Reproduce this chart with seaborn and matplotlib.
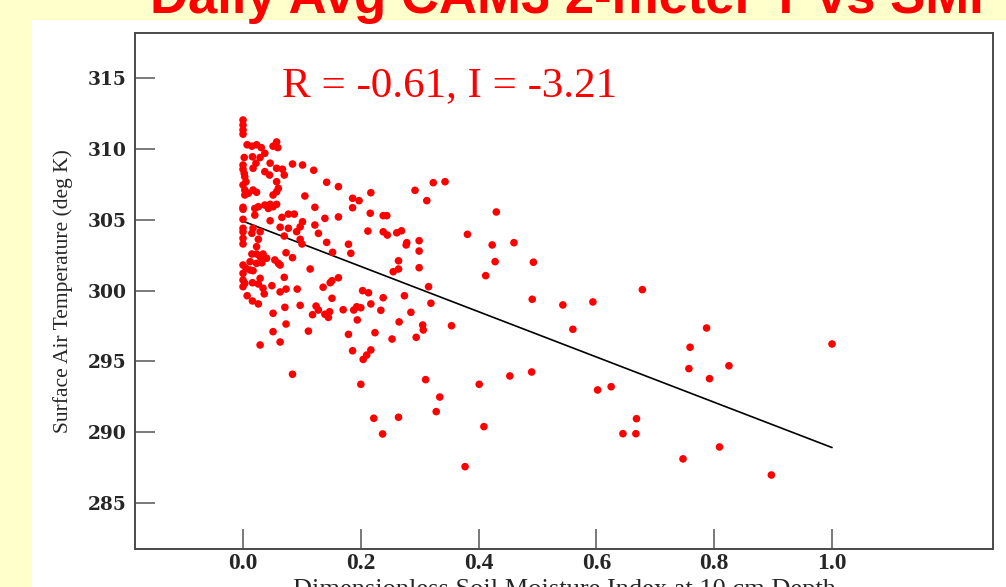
import matplotlib
matplotlib.use("Agg")
import matplotlib.pyplot as plt
import seaborn as sns
import pandas as pd
from matplotlib.patches import Rectangle

# ---- data ----
smi = [0.0, 0.0, 0.0, 0.0, 0.007, 0.015, 0.023, 0.031, 0.051, 0.057, 0.059, 0.037, 0.002, 0.016, 0.029,
       0.022, 0.046, 0.0, 0.0, 0.002, 0.017, 0.037, 0.045, 0.057, 0.067, 0.07, 0.084, 0.101, 0.12, 0.003,
       0.005, 0.057, 0.142, 0.162, 0.0, 0.003, 0.003, 0.009, 0.023, 0.017, 0.06, 0.057, 0.051, 0.105, 0.0,
       0.02, 0.026, 0.037, 0.046, 0.051, 0.057, 0.043, 0.122, 0.0, 0.046, 0.02, 0.066, 0.077, 0.087, 0.101,
       0.139, 0.162, 0.0, 0.0, 0.017, 0.029, 0.063, 0.077, 0.097, 0.122, 0.128, 0.323, 0.343, 0.292, 0.312,
       0.186, 0.197, 0.217, 0.186, 0.216, 0.238, 0.244, 0.43, 0.091, 0.212, 0.238, 0.245, 0.261, 0.269, 0.381,
       0.142, 0.179, 0.183, 0.152, 0.278, 0.277, 0.299, 0.299, 0.423, 0.46, 0.493, 0.428, 0.264, 0.264, 0.255,
       0.299, 0.412, 0.097, 0.1, 0.084, 0.073, 0.07, 0.063, 0.114, 0.07, 0.162, 0.151, 0.148, 0.136, 0.073,
       0.063, 0.092, 0.151, 0.203, 0.213, 0.238, 0.315, 0.274, 0.319, 0.217, 0.491, 0.543, 0.071, 0.097, 0.124,
       0.128, 0.118, 0.139, 0.145, 0.147, 0.17, 0.188, 0.193, 0.2, 0.194, 0.234, 0.285, 0.265, 0.305, 0.306,
       0.354, 0.56, 0.073, 0.111, 0.063, 0.179, 0.224, 0.253, 0.294, 0.186, 0.217, 0.21, 0.204, 0.084, 0.2,
       0.31, 0.401, 0.453, 0.49, 0.334, 0.015, 0.0, 0.0, 0.026, 0.023, 0.015, 0.023, 0.034, 0.029, 0.04,
       0.054, 0.06, 0.012, 0.023, 0.032, 0.0, 0.005, 0.012, 0.017, 0.0, 0.0, 0.003, 0.0, 0.016, 0.026,
       0.029, 0.034, 0.036, 0.049, 0.007, 0.016, 0.026, 0.051, 0.051, 0.029, 0.0, 0.328, 0.222, 0.264, 0.237,
       0.409, 0.377, 0.594, 0.678, 0.787, 0.759, 0.757, 0.792, 0.825, 1.0, 0.602, 0.625, 0.668, 0.645, 0.667,
       0.809, 0.747, 0.897]
temp = [312.05, 311.7, 311.35, 311.05, 310.3, 310.2, 310.3, 310.1, 310.2, 310.5, 310.1, 309.7, 309.4, 309.45, 309.4,
        309.0, 309.0, 308.87, 308.57, 308.28, 308.64, 308.4, 308.16, 308.64, 308.57, 308.16, 308.94, 308.87, 308.5, 308.04,
        307.69, 307.69, 307.65, 307.34, 307.46, 307.1, 306.75, 306.87, 306.94, 307.1, 307.22, 306.98, 306.75, 306.68, 305.88,
        305.8, 305.92, 306.04, 306.09, 305.92, 306.09, 305.8, 305.88, 305.03, 304.93, 305.33, 305.17, 305.4, 305.4, 304.86,
        305.1, 305.2, 304.4, 304.15, 304.4, 304.15, 304.47, 304.4, 304.5, 304.63, 304.04, 307.62, 307.69, 307.08, 306.35,
        306.52, 306.35, 306.91, 305.85, 305.46, 305.29, 305.29, 305.55, 304.16, 304.2, 304.15, 303.92, 304.08, 304.22, 303.97,
        303.4, 303.27, 302.63, 302.7, 303.38, 303.22, 303.52, 302.79, 303.22, 303.38, 302.0, 302.04, 302.1, 301.52, 301.33,
        301.61, 301.05, 303.62, 303.29, 302.32, 302.67, 303.85, 301.8, 301.52, 300.93, 300.9, 300.69, 300.55, 300.23, 300.1,
        299.9, 300.1, 299.45, 299.99, 299.84, 299.49, 300.27, 299.63, 299.1, 299.05, 299.38, 298.98, 298.81, 298.95, 298.9,
        298.62, 298.29, 298.32, 298.1, 298.5, 298.64, 298.62, 298.85, 298.78, 297.92, 298.6, 298.46, 297.78, 297.56, 297.21,
        297.51, 297.26, 297.63, 297.13, 296.36, 296.9, 297.02, 296.57, 296.69, 295.74, 295.8, 295.44, 295.13, 294.08, 293.37,
        293.7, 293.37, 293.96, 294.24, 292.47, 304.04, 303.69, 303.29, 303.62, 303.1, 302.58, 302.58, 302.58, 302.39, 302.28,
        302.16, 301.92, 302.04, 301.92, 301.96, 301.8, 301.57, 301.45, 301.4, 301.21, 300.74, 300.51, 300.27, 300.55, 300.46,
        300.86, 300.16, 299.76, 300.34, 299.63, 299.26, 299.05, 298.39, 297.09, 296.15, 305.74, 291.44, 290.97, 291.04, 289.86,
        290.38, 287.55, 299.19, 300.06, 297.35, 295.99, 294.48, 293.77, 294.68, 296.22, 292.97, 293.2, 290.94, 289.88, 289.88,
        288.94, 288.1, 286.96]

fit_x = [0.0, 1.0]
fit_y = [304.9, 288.9]

x_ticks = [0.0, 0.2, 0.4, 0.6, 0.8, 1.0]
x_ticklabels = ["0.0", "0.2", "0.4", "0.6", "0.8", "1.0"]
y_ticks = [285, 290, 295, 300, 305, 310, 315]

title = "Daily Avg CAM3 2-meter T vs SMI"
stat_text = "R = -0.61, I = -3.21"
xlabel = "Dimensionless Soil Moisture Index at 10 cm Depth"
ylabel = "Surface Air Temperature (deg K)"

df = pd.DataFrame({"smi": smi, "temp": temp})
fit = pd.DataFrame({"smi": fit_x, "temp": fit_y})

sns.set_style("white")
W, H = 1006, 587
fig = plt.figure(figsize=(W / 100, H / 100), dpi=100)
fig.patch.set_facecolor("#FFFFCC")
# white slide panel (drawn beneath the axes)
panel = Rectangle((32 / W, 0), 1 - 32 / W, 1 - 20 / H, transform=fig.transFigure,
                  facecolor="white", edgecolor="none", zorder=-10)
fig.add_artist(panel)

ax = fig.add_axes([135 / W, 1 - 549 / H, (993 - 135) / W, (549 - 33) / H])
ax.set_zorder(1)
ax.set_facecolor("white")

sns.scatterplot(data=df, x="smi", y="temp", ax=ax, color="#FF0000", s=30,
                edgecolor="none", linewidth=0, zorder=3)
sns.lineplot(data=fit, x="smi", y="temp", ax=ax, color="black", linewidth=1.2, zorder=2)

ax.set_xlim(-0.1834, 1.2733)
ax.set_ylim(281.73, 318.2)
ax.set_xticks(x_ticks)
ax.set_xticklabels(x_ticklabels)
ax.set_yticks(y_ticks)

for s in ax.spines.values():
    s.set_visible(True)
    s.set_color("#4a4a4a")
    s.set_linewidth(1.4)

ax.tick_params(axis="both", which="major", direction="in", length=14.5, width=1.1,
               color="#555555", left=True, bottom=True, top=False, right=False)
ax.tick_params(axis="y", pad=6)
ax.tick_params(axis="x", pad=3)
for lab in ax.get_yticklabels():
    lab.set_fontfamily("DejaVu Serif")
    lab.set_fontweight("bold")
    lab.set_fontsize(13.4)
for lab in ax.get_xticklabels():
    lab.set_fontfamily("Liberation Serif")
    lab.set_fontweight("bold")
    lab.set_fontsize(17)

ax.set_xlabel(xlabel, fontfamily="Liberation Serif", fontsize=19, va="top")
ax.xaxis.set_label_coords(0.5, (549 - 579) / 516)
ax.set_ylabel(ylabel, fontfamily="Liberation Serif", fontsize=15.5, va="center")
ax.yaxis.set_label_coords((63 - 135) / 858, 0.5)

ax.text((282 - 135) / 858, (549 - 96) / 516, stat_text, transform=ax.transAxes,
        fontfamily="Liberation Serif", fontsize=31, color="#FF0000", ha="left", va="baseline")

fig.text(567 / W, 1 - 13 / H, title, fontfamily="Liberation Sans", fontweight="bold",
         fontsize=38, color="#FF0000", ha="center", va="baseline")

fig.savefig("out.png", dpi=100, facecolor=fig.get_facecolor())
